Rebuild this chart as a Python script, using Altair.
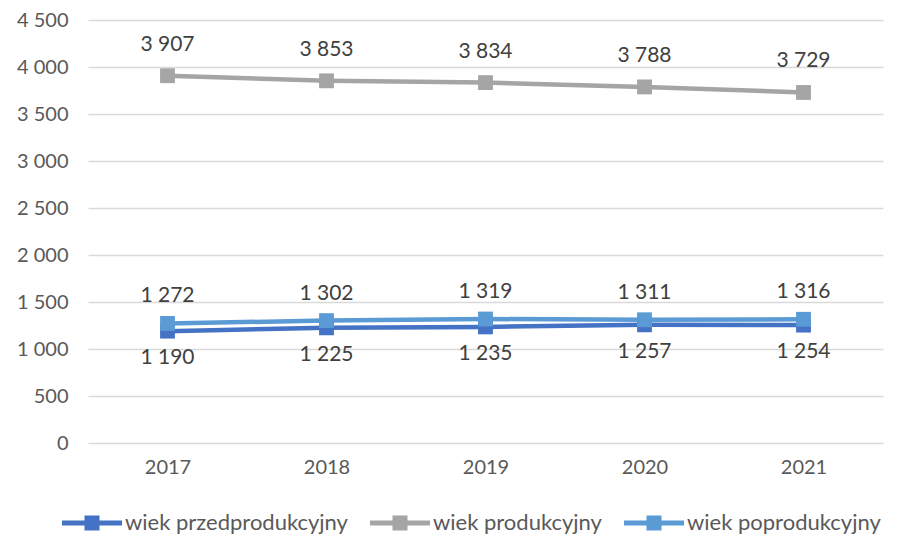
import altair as alt
import pandas as pd

years = ["2017", "2018", "2019", "2020", "2021"]
series_names = ["wiek przedprodukcyjny", "wiek produkcyjny", "wiek poprodukcyjny"]
przed = [1190, 1225, 1235, 1257, 1254]
prod = [3907, 3853, 3834, 3788, 3729]
popro = [1272, 1302, 1319, 1311, 1316]
colors = ["#4472C4", "#A5A5A5", "#5B9BD5"]
y_ticks = [0, 500, 1000, 1500, 2000, 2500, 3000, 3500, 4000, 4500]

rows = []
for name, vals in zip(series_names, [przed, prod, popro]):
    for y, v in zip(years, vals):
        rows.append({"year": y, "series": name, "value": v})
df = pd.DataFrame(rows)

FONT = "Lato"
legend_path = ("M-1,-0.08 L1,-0.08 L1,0.08 L-1,0.08 Z "
               "M-0.25,-0.25 L0.25,-0.25 L0.25,0.25 L-0.25,0.25 Z")
legend = alt.Legend(
    title=None, orient="none", direction="horizontal",
    legendX=-26, legendY=473,
    symbolType=legend_path, symbolSize=3600, symbolStrokeWidth=0,
    symbolOpacity=1,
    labelFontSize=22, labelFont=FONT, labelColor="#595959",
    labelOffset=3, columnPadding=22, labelLimit=400,
)
color = alt.Color(
    "series:N",
    scale=alt.Scale(domain=series_names, range=colors),
    legend=legend,
)
x = alt.X("year:O", title=None, sort=years,
          axis=alt.Axis(labelAngle=0, ticks=False, domain=False, grid=False,
                        labelFontSize=20, labelColor="#595959", labelFont=FONT,
                        labelPadding=14))
y = alt.Y("value:Q", title=None,
          scale=alt.Scale(domain=[0, 4500], nice=False),
          axis=alt.Axis(values=y_ticks, ticks=False, domain=False,
                        gridColor="#D9D9D9", gridWidth=1.3,
                        labelFontSize=20, labelColor="#595959", labelFont=FONT,
                        labelPadding=20,
                        labelExpr="replace(format(datum.value, ',d'), ',', ' ')"))

base = alt.Chart(df).encode(x=x, y=y)

lines = base.mark_line(strokeWidth=4.5).encode(color=color, detail="series:N")

points = base.mark_point(shape="square", filled=True, size=220, opacity=1).encode(
    color=color,
    order=alt.Order("sidx:Q"),
).transform_calculate(sidx="indexof(['wiek przedprodukcyjny','wiek produkcyjny','wiek poprodukcyjny'], datum.series)")

def labels(name, dy):
    return base.transform_filter(alt.datum.series == name).transform_calculate(
        lab="replace(format(datum.value, ',d'), ',', ' ')"
    ).mark_text(dy=dy, fontSize=21, font=FONT, color="#404040").encode(text="lab:N")

chart = alt.layer(
    lines, points,
    labels("wiek przedprodukcyjny", 27),
    labels("wiek produkcyjny", -31),
    labels("wiek poprodukcyjny", -27),
).properties(
    width=795, height=423,
    autosize=alt.AutoSizeParams(type="none"),
    padding={"left": 80, "top": 12, "right": 10, "bottom": 98},
    background="white",
).configure_view(stroke=None)

chart.save("out.html", embed_options={"renderer": "svg", "actions": False})
